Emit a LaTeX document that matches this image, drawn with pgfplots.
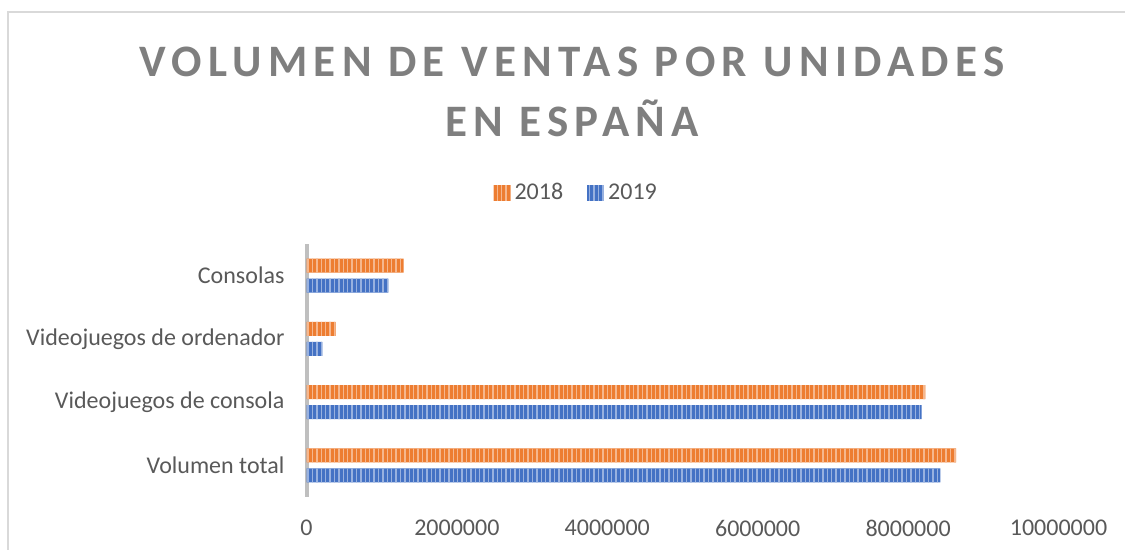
\documentclass[border=0pt]{standalone}
\usepackage{fontspec}
\setmainfont{Carlito}
\newfontfamily\titlefont[LetterSpace=14]{Carlito}
\usepackage{pgfplots}
\pgfplotsset{compat=1.18}
\usetikzlibrary{patterns.meta}
\definecolor{c18}{HTML}{ED7D31}
\definecolor{c19}{HTML}{4472C4}
\definecolor{txt}{HTML}{595959}
\definecolor{ttl}{HTML}{7F7F7F}
\definecolor{axl}{HTML}{BFBFBF}
\definecolor{brd}{HTML}{D9D9D9}
\begin{document}
\begin{tikzpicture}
\useasboundingbox (0pt,0pt) rectangle (562.5pt,275pt);
\draw[brd, line width=1pt] (3.75pt,-5pt) -- (3.75pt,268.75pt) -- (570pt,268.75pt);
\node[font=\titlefont\bfseries\fontsize{22.5}{27}\selectfont, text=ttl, anchor=base] at (286pt,236.5pt) {VOLUMEN DE VENTAS POR UNIDADES};
\node[font=\titlefont\bfseries\fontsize{22.5}{27}\selectfont, text=ttl, anchor=base] at (286pt,206.5pt) {EN ESPAÑA};
\begin{axis}[
  at={(153.25pt,26.5pt)}, anchor=south west,
  scale only axis, width=376pt, height=126.5pt,
  xmin=0, xmax=10000000, ymin=-0.5, ymax=3.5,
  xbar, bar width=7pt,
  ytick={0,1,2,3},
  yticklabels={Volumen total, Videojuegos de consola\hspace{0.3em}, Videojuegos de ordenador, Consolas},
  xtick={0,2000000,4000000,6000000,8000000,10000000},
  xticklabels={0,2000000,4000000,6000000,8000000,10000000},
  scaled x ticks=false,
  axis lines*=left,
  x axis line style={draw=none},
  y axis line style={draw=axl, line width=2pt},
  major tick length=0pt,
  tick label style={font=\fontsize{12}{14}\selectfont, text=txt},
  yticklabel style={xshift=-7.5pt},
  xticklabel style={yshift=-8pt},
  legend columns=2,
  legend style={draw=none, fill=none, at={(0.36,1.2016)}, anchor=center,
    font=\fontsize{12}{14}\selectfont, text=txt,
    /tikz/every even column/.append style={column sep=10pt}},
]
\addplot[draw=none, fill=c18,
  postaction={pattern={Lines[angle=90,distance=2.2pt,line width=0.7pt]}, pattern color=c18!55!white},
  bar shift=5pt,
  legend image code/.code={\path[draw=none, fill=c18, postaction={pattern={Lines[angle=90,distance=2.2pt,line width=0.7pt]}, pattern color=c18!55!white}] (-1pt,-3.8pt) rectangle (7.5pt,3.8pt);}]
  coordinates {(8640000,0) (8230000,1) (386000,2) (1290000,3)};
\addlegendentry{2018}
\addplot[draw=none, fill=c19,
  postaction={pattern={Lines[angle=90,distance=2.2pt,line width=0.7pt]}, pattern color=c19!55!white},
  bar shift=-5pt,
  legend image code/.code={\path[draw=none, fill=c19, postaction={pattern={Lines[angle=90,distance=2.2pt,line width=0.7pt]}, pattern color=c19!55!white}] (-1pt,-3.8pt) rectangle (7.5pt,3.8pt);}]
  coordinates {(8430000,0) (8180000,1) (210000,2) (1090000,3)};
\addlegendentry{2019}
\end{axis}
\end{tikzpicture}
\end{document}
